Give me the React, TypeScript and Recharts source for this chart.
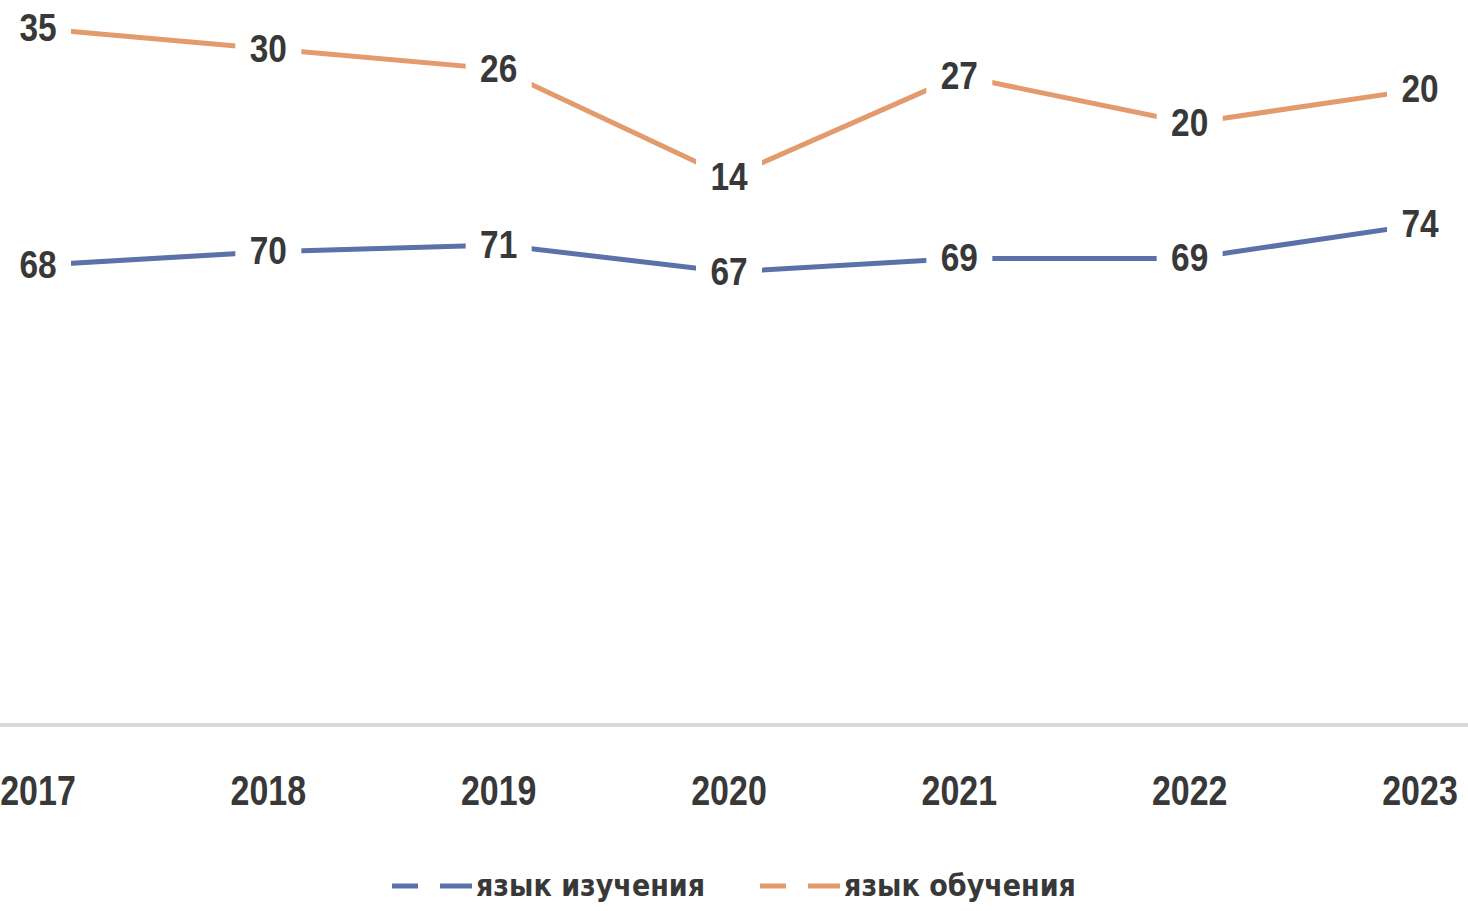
import { Area, AreaChart, XAxis, YAxis, Legend, LabelList } from "recharts";

const years = ["2017", "2018", "2019", "2020", "2021", "2022", "2023"];
const studyLang = [68, 70, 71, 67, 69, 69, 74];
const teachLang = [35, 30, 26, 14, 27, 20, 20];

const seriesNames = { study: "язык изучения", teach: "язык обучения" };
const colors = { study: "#5a72a8", teach: "#e39a6c" };

const FONT = "'Liberation Sans', Arial, sans-serif";
const LEGEND_FONT = "'DejaVu Sans', sans-serif";
const TEXT = "#383838";

const chartData = years.map((year, i) => ({
  year,
  study: studyLang[i],
  teach: teachLang[i],
}));

// Excel-style data label: white box hides the line under the number
const PointLabel = (props: any) => {
  const { x, y, value } = props;
  if (x == null || y == null) return null;
  return (
    <g transform={`translate(${x},${y})`}>
      <rect x={-33} y={-20} width={66} height={40} fill="#fff" />
      <text
        transform="scale(0.88,1)"
        textAnchor="middle"
        dominantBaseline="central"
        fontSize={38}
        fontWeight="bold"
        fontFamily={FONT}
        fill={TEXT}
      >
        {value}
      </text>
    </g>
  );
};

// narrow bold year labels, like the Calibri ones in the source
const YearTick = (props: any) => {
  const { x, y, payload } = props;
  return (
    <g transform={`translate(${x},${y})`}>
      <text
        transform="scale(0.79,1)"
        textAnchor="middle"
        dominantBaseline="central"
        fontSize={43}
        fontWeight="bold"
        fontFamily={FONT}
        fill={TEXT}
      >
        {payload.value}
      </text>
    </g>
  );
};

const LegendContent = () => {
  const items = [
    { key: "study", label: seriesNames.study, color: colors.study },
    { key: "teach", label: seriesNames.teach, color: colors.teach },
  ];
  return (
    <div style={{ display: "flex", justifyContent: "center", gap: 55, alignItems: "center" }}>
      {items.map((it) => (
        <div key={it.key} style={{ display: "flex", alignItems: "center" }}>
          <svg width={80} height={20} style={{ marginRight: 4 }}>
            <line x1={0} y1={10} x2={26} y2={10} stroke={it.color} strokeWidth={5} />
            <line x1={48} y1={10} x2={80} y2={10} stroke={it.color} strokeWidth={5} />
          </svg>
          <span
            style={{
              fontFamily: LEGEND_FONT,
              fontStretch: "condensed",
              fontWeight: "bold",
              fontSize: 30,
              color: TEXT,
            }}
          >
            {it.label}
          </span>
        </div>
      ))}
    </div>
  );
};

export default function App() {
  return (
    <div style={{ position: "absolute", left: 0, top: 0, width: 1468, height: 911, background: "#fff" }}>
      <AreaChart width={1468} height={911} data={chartData} margin={{ top: 15, right: 0, left: 0, bottom: 0 }}>
        <XAxis
          dataKey="year"
          height={186}
          interval={0}
          padding={{ left: 38, right: 48 }}
          axisLine={{ stroke: "#d9d9d9", strokeWidth: 4 }}
          tickLine={false}
          tickSize={0}
          tickMargin={65}
          tick={<YearTick />}
        />
        <YAxis hide domain={[0, 105]} />
        <Legend
          verticalAlign="middle"
          align="center"
          content={<LegendContent />}
          wrapperStyle={{ top: 868, left: 0, width: 1468 }}
        />
        <Area
          dataKey="study"
          name={seriesNames.study}
          stackId="a"
          stroke={colors.study}
          strokeWidth={5}
          fill="none"
          dot={false}
          activeDot={false}
          isAnimationActive={false}
        >
          <LabelList dataKey="study" content={<PointLabel />} />
        </Area>
        <Area
          dataKey="teach"
          name={seriesNames.teach}
          stackId="a"
          stroke={colors.teach}
          strokeWidth={5}
          fill="none"
          dot={false}
          activeDot={false}
          isAnimationActive={false}
        >
          <LabelList dataKey="teach" content={<PointLabel />} />
        </Area>
      </AreaChart>
    </div>
  );
}
